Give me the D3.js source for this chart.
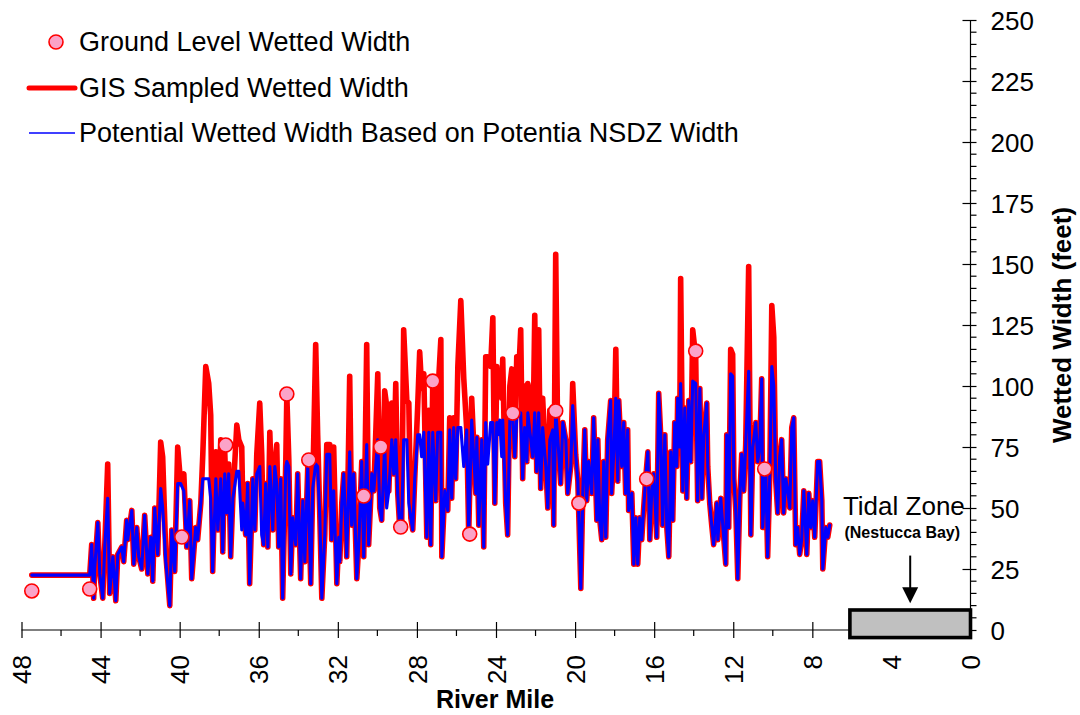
<!DOCTYPE html>
<html><head><meta charset="utf-8">
<script src="https://cdn.jsdelivr.net/npm/d3@7"></script>
<style>body{margin:0;background:#fff}svg{display:block}</style>
</head><body><svg id="c" width="1080" height="715"></svg>
<script>
// ---- data ----
const riverMile = [47.48,44.55,44.45,44.35,44.30,44.14,44.04,43.89,43.79,43.64,
43.54,43.38,43.23,43.13,42.93,42.83,42.68,42.63,42.42,42.32,
42.17,42.07,41.92,41.77,41.61,41.46,41.36,41.26,41.11,40.96,
40.86,40.70,40.50,40.40,40.25,40.10,39.95,39.79,39.64,39.49,
39.39,39.19,39.09,38.93,38.83,38.68,38.53,38.43,38.33,38.17,
38.07,37.92,37.82,37.72,37.62,37.52,37.42,37.31,37.11,37.01,
36.86,36.81,36.66,36.56,36.46,36.30,36.20,36.10,35.95,35.85,
35.75,35.65,35.54,35.44,35.29,35.19,35.09,34.99,34.89,34.79,
34.63,34.58,34.48,34.38,34.28,34.13,34.03,33.88,33.77,33.67,
33.52,33.37,33.27,33.12,33.02,32.91,32.81,32.66,32.56,32.41,
32.31,32.21,32.05,31.95,31.90,31.80,31.70,31.55,31.40,31.30,
31.20,31.04,30.94,30.79,30.69,30.54,30.44,30.28,30.18,29.98,
29.88,29.78,29.63,29.53,29.42,29.27,29.17,29.07,28.97,28.87,
28.77,28.67,28.51,28.41,28.31,28.21,28.11,27.96,27.86,27.76,
27.65,27.50,27.40,27.30,27.20,27.05,26.95,26.79,26.74,26.59,
26.44,26.34,26.24,26.14,26.04,25.93,25.78,25.63,25.48,25.38,
25.23,25.02,24.97,24.87,24.72,24.62,24.52,24.42,24.27,24.16,
24.06,23.96,23.91,23.81,23.71,23.66,23.51,23.41,23.30,23.20,
23.15,23.05,22.95,22.85,22.75,22.65,22.55,22.44,22.39,22.24,
22.14,22.04,21.94,21.84,21.74,21.64,21.48,21.38,21.28,21.13,
21.08,20.98,20.88,20.73,20.62,20.47,20.37,20.22,20.12,19.97,
19.86,19.71,19.61,19.51,19.41,19.31,19.16,19.06,18.90,18.85,
18.75,18.65,18.55,18.45,18.35,18.20,18.15,18.04,17.94,17.84,
17.79,17.64,17.54,17.44,17.34,17.29,17.13,17.03,16.93,16.83,
16.73,16.63,16.53,16.43,16.32,16.22,16.12,16.02,15.87,15.77,
15.67,15.57,15.46,15.36,15.26,15.16,15.06,14.96,14.86,14.81,
14.71,14.66,14.55,14.45,14.35,14.25,14.15,14.05,13.90,13.80,
13.69,13.59,13.49,13.34,13.29,13.19,13.09,12.99,12.83,12.78,
12.63,12.53,12.38,12.33,12.23,12.13,12.03,11.97,11.87,11.77,
11.67,11.57,11.47,11.37,11.22,11.11,11.01,10.86,10.76,10.66,
10.56,10.51,10.36,10.26,10.15,10.05,9.95,9.85,9.75,9.65,
9.55,9.45,9.34,9.24,9.14,9.04,8.94,8.84,8.74,8.64,
8.54,8.43,8.28,8.18,8.08,7.98,7.88,7.73,7.63,7.52,
7.47,7.32,7.22,7.12];

const gisWidth = [22.5,22.5,35,13,25,44,23,13,34,68,
15,30,12,31,34,28,45,37,49,27,
42,30,25,47,23,38,20,50,31,77,
71,31,10,41,24,75,60,64,34,53,
21,42,37,52,72,108,101,88,24,73,
41,78,32,73,48,68,30,54,84,78,
75,52,39,60,19,62,41,72,93,72,
35,60,34,81,41,67,76,34,62,13,
70,96,70,23,46,35,64,21,53,28,
67,19,58,117,80,46,13,39,76,76,
37,75,19,38,28,52,64,30,104,43,
64,21,35,69,30,117,35,64,57,105,
50,45,98,92,57,93,64,101,56,42,
43,123,94,93,46,41,62,92,114,99,
105,38,90,35,101,53,95,119,30,57,
49,87,54,87,62,108,135,103,82,39,
95,56,79,43,78,34,112,112,108,128,
52,108,100,103,95,111,52,39,100,107,
100,71,112,105,123,62,100,69,101,95,
71,129,65,123,58,95,67,50,90,82,
43,154,79,60,85,78,56,67,101,72,
61,17,56,82,53,69,56,87,45,78,
45,37,69,38,78,94,56,73,115,61,
94,67,85,56,82,49,56,27,46,27,
46,37,50,62,73,37,57,64,38,97,
80,43,80,42,30,73,45,85,67,95,
75,144,57,91,54,94,69,123,112,53,
99,54,80,93,67,52,43,35,52,37,
54,43,27,80,42,115,113,62,49,21,
54,72,57,76,149,39,75,85,69,75,
103,42,66,30,64,133,120,61,48,71,
78,48,62,57,50,83,87,35,42,31,
37,57,31,56,42,53,38,69,69,53,
25,42,38,43];

const potentialWidth = [22.5,22.5,35,13,25,44,23,13,34,54,
15,30,12,31,34,28,45,37,49,27,
42,30,25,47,23,38,20,50,31,58,
50,28,10,41,24,60,60,57,34,53,
21,42,37,52,62,62,62,54,24,62,
41,62,32,64,48,64,30,54,65,65,
41,52,39,60,19,62,41,64,67,39,
35,60,34,67,41,67,60,34,62,13,
67,69,67,23,46,35,64,21,53,28,
67,19,58,68,67,46,13,39,72,72,
37,57,19,38,28,52,64,30,73,43,
64,21,35,69,30,76,35,64,57,78,
50,45,76,50,57,78,64,78,56,42,
43,78,78,52,46,41,62,80,80,71,
81,38,81,35,81,53,81,81,30,57,
49,82,54,83,62,83,83,67,82,39,
86,56,79,43,78,34,85,68,85,85,
52,85,80,86,71,86,52,39,86,86,
87,71,87,88,89,62,83,69,89,78,
71,89,65,89,58,83,67,50,78,82,
43,90,79,60,85,78,56,67,92,72,
61,17,56,82,53,69,56,87,45,78,
45,37,69,38,78,94,56,73,95,61,
94,67,85,56,82,49,56,27,46,27,
46,37,50,62,73,37,57,64,38,97,
80,43,80,42,30,73,45,85,67,95,
75,101,57,91,54,94,69,102,101,53,
99,54,80,93,67,52,43,35,52,37,
54,43,27,80,42,105,104,62,49,21,
54,72,57,76,106,39,75,85,69,75,
103,42,66,30,64,108,100,61,48,71,
78,48,62,57,50,83,87,35,42,31,
37,57,31,56,42,53,38,69,69,53,
25,42,38,43];

const groundMile  = [47.48,44.55,39.89,37.67,34.58,33.47,30.69,29.83,28.82,27.20,25.33,23.15,20.98,19.81,16.38,13.90,10.41];
const groundWidth = [16.0,16.8,38.1,75.8,96.7,69.7,54.9,75.0,42.2,102.0,39.3,88.9,89.8,52.0,61.9,114.3,66.0];

const xTicksMajor = [48,44,40,36,32,28,24,20,16,12,8,4,0];
const xTicksMinor = [46,42,38,34,30,26,22,18,14,10,6,2];
const yTicksMajor = [0,25,50,75,100,125,150,175,200,225,250];
const yTicksMinor = [5,10,15,20,30,35,40,45,55,60,65,70,80,85,90,95,105,110,115,120,130,135,140,145,155,160,165,170,180,185,190,195,205,210,215,220,230,235,240,245];

const tidalMiles  = [6.1, 0];     // river-mile extent of tidal zone box
const tidalWidths = [-3.1, 8.2];  // box vertical extent (feet)
const arrowMile = 3.05;
const arrowWidths = [30.5, 11];   // arrow start / tip

const legendLabels = ["Ground Level Wetted Width","GIS Sampled Wetted Width","Potential Wetted Width Based on Potentia NSDZ Width"];

// ---- drawing ----
const FONT = '"Liberation Sans", Arial, Helvetica, sans-serif';
const svg = d3.select("#c").attr("font-family", FONT);
const x = d3.scaleLinear().domain([48, 0]).range([21.5, 970.5]);
const y = d3.scaleLinear().domain([0, 250]).range([630, 20]);

// X axis
const gx = svg.append("g").attr("transform", `translate(0,${y(0)})`);
gx.append("line").attr("x1", x(48)).attr("x2", x(0)).attr("stroke", "#000").attr("stroke-width", 1.2);
gx.call(d3.axisBottom(x).tickValues(xTicksMajor).tickSize(8).tickFormat(d3.format("d")));
gx.select(".domain").remove();
gx.attr("font-family", FONT).attr("font-size", 26);
gx.selectAll(".tick line").attr("y1", -8).attr("y2", 8).attr("stroke", "#000").attr("stroke-width", 1.2);
gx.selectAll(".tick text").attr("x", 0).attr("y", 0).attr("dy", "0.35em")
  .attr("text-anchor", "end").attr("transform", "translate(0,25) rotate(-90)").attr("fill", "#000");
gx.selectAll("line.minor").data(xTicksMinor).join("line").attr("class", "minor")
  .attr("x1", d => x(d)).attr("x2", d => x(d)).attr("y1", 0).attr("y2", 6)
  .attr("stroke", "#000").attr("stroke-width", 1.2);

// Y axis (right)
const gy = svg.append("g").attr("transform", `translate(${x(0)},0)`);
gy.append("line").attr("y1", y(0)).attr("y2", y(250)).attr("stroke", "#000").attr("stroke-width", 1.2);
gy.call(d3.axisRight(y).tickValues(yTicksMajor).tickSize(6).tickFormat(d3.format("d")));
gy.select(".domain").remove();
gy.attr("font-family", FONT).attr("font-size", 26);
gy.selectAll(".tick line").attr("x1", -8).attr("x2", 6).attr("stroke", "#000").attr("stroke-width", 1.2);
gy.selectAll(".tick text").attr("x", 20).attr("dy", "0.35em").attr("fill", "#000");
gy.selectAll("line.minor").data(yTicksMinor).join("line").attr("class", "minor")
  .attr("y1", d => y(d)).attr("y2", d => y(d)).attr("x1", 0).attr("x2", 6)
  .attr("stroke", "#000").attr("stroke-width", 1.2);

// axis titles
svg.append("text").attr("x", 495).attr("y", 708).attr("text-anchor", "middle")
  .attr("font-size", 25).attr("font-weight", "bold").text("River Mile");
svg.append("text").attr("transform", "translate(1071,325) rotate(-90)").attr("text-anchor", "middle")
  .attr("font-size", 26).attr("font-weight", "bold").text("Wetted Width (feet)");

// series
const idx = d3.range(Math.min(riverMile.length, gisWidth.length, potentialWidth.length));
const lineGis = d3.line().x(i => x(riverMile[i])).y(i => y(gisWidth[i]));
const linePot = d3.line().x(i => x(riverMile[i])).y(i => y(potentialWidth[i]));
svg.append("path").datum(idx).attr("d", lineGis).attr("fill", "none")
  .attr("stroke", "#ff0000").attr("stroke-width", 5.6).attr("stroke-linejoin", "round").attr("stroke-linecap", "round");
svg.append("path").datum(idx).attr("d", linePot).attr("fill", "none")
  .attr("stroke", "#0000ff").attr("stroke-width", 3.1).attr("stroke-linejoin", "round").attr("stroke-linecap", "round");

svg.append("g").selectAll("circle").data(d3.range(groundMile.length)).join("circle")
  .attr("cx", i => x(groundMile[i])).attr("cy", i => y(groundWidth[i])).attr("r", 7)
  .attr("fill", "#fba3c8").attr("stroke", "#ff0000").attr("stroke-width", 1.6);

// tidal zone box
svg.append("rect")
  .attr("x", x(tidalMiles[0])).attr("y", y(tidalWidths[1]))
  .attr("width", x(tidalMiles[1]) - x(tidalMiles[0])).attr("height", y(tidalWidths[0]) - y(tidalWidths[1]))
  .attr("fill", "#c0c0c0").attr("stroke", "#000").attr("stroke-width", 3.6);

// arrow
const ax = x(arrowMile), aTip = y(arrowWidths[1]);
svg.append("line").attr("x1", ax).attr("x2", ax).attr("y1", y(arrowWidths[0])).attr("y2", aTip - 12)
  .attr("stroke", "#000").attr("stroke-width", 2);
svg.append("path").attr("d", `M${ax - 8},${aTip - 16} L${ax + 8},${aTip - 16} L${ax},${aTip} Z`).attr("fill", "#000");

svg.append("text").attr("x", x(3.37)).attr("y", y(47.1)).attr("text-anchor", "middle")
  .attr("font-size", 26).text("Tidal Zone");
svg.append("text").attr("x", x(3.45)).attr("y", y(37.7)).attr("text-anchor", "middle")
  .attr("font-size", 16).attr("font-weight", "bold").text("(Nestucca Bay)");

// legend
const lg = svg.append("g");
lg.append("circle").attr("cx", 56).attr("cy", 42).attr("r", 7).attr("fill", "#fba3c8").attr("stroke", "#ff0000").attr("stroke-width", 1.6);
lg.append("line").attr("x1", 29).attr("x2", 75).attr("y1", 88).attr("y2", 88).attr("stroke", "#ff0000").attr("stroke-width", 5).attr("stroke-linecap", "round");
lg.append("line").attr("x1", 29).attr("x2", 75).attr("y1", 133).attr("y2", 133).attr("stroke", "#0000ff").attr("stroke-width", 1.6);
lg.selectAll("text").data(legendLabels).join("text")
  .attr("x", 79).attr("y", (d, i) => 42 + i * 45.5).attr("dy", "0.35em")
  .attr("font-size", 27).attr("fill", "#000").text(d => d);
</script>
</body></html>
